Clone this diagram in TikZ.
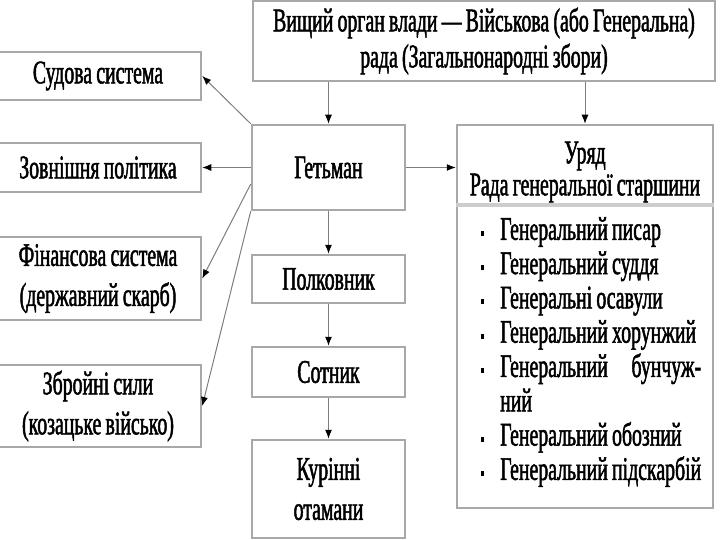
\documentclass[tikz,border=0pt]{standalone}
\usepackage{fontspec}
\setmainfont{Liberation Serif}[FakeStretch=0.6, WordSpace=0.85, FakeBold=1.5]
\usetikzlibrary{arrows.meta, positioning}
\definecolor{boxgray}{RGB}{168,168,168}
\definecolor{linegray}{RGB}{125,125,125}
\definecolor{rulegray}{RGB}{205,205,205}
\newcommand{\bul}{\makebox[20pt][l]{\hspace{1pt}\raisebox{4pt}{\rule{3pt}{5pt}}}}

\begin{document}
\begin{tikzpicture}[
        x=1pt, y=-1pt,
        box/.style={rectangle, draw=boxgray, line width=2.5pt, fill=white, inner sep=0pt, align=center, font=\fontsize{33}{40}\selectfont},
        txt/.style={inner sep=0pt, font=\fontsize{33}{40}\selectfont},
        arrow/.style={-{Latex[length=9pt, width=7pt, black]}, line width=1pt, color=linegray}
    ]
        \useasboundingbox (0,0) rectangle (720,540);

        % Supreme body (top)
        \node[box, minimum width=462, minimum height=80, font=\fontsize{33}{36}\selectfont] (rada) at (484,41) {Вищий орган влади — Військова (або Генеральна)\\рада (Загальнонародні збори)};

        % Hetman and the chain of command (middle column)
        \node[box, minimum width=153, minimum height=85] (hetman) at (328.5,167.5) {Гетьман};
        \node[box, minimum width=153, minimum height=48] (polk) at (328.5,279) {Полковник};
        \node[box, minimum width=153, minimum height=50] (sotnyk) at (328.5,372) {Сотник};
        \node[box, minimum width=153, minimum height=98] (kurin) at (328.5,489) {Курінні\\отамани};

        % Branches under the Hetman (left column)
        \node[box, minimum width=206, minimum height=48] (sud) at (98,76) {Судова система};
        \node[box, minimum width=206, minimum height=49] (zovn) at (98,167.5) {Зовнішня політика};
        \node[box, minimum width=206, minimum height=83] (fin) at (98,278.5) {Фінансова система\\(державний скарб)};
        \node[box, minimum width=206, minimum height=82] (army) at (98,406) {Збройні сили\\(козацьке військо)};

        % Government (right column)
        \node[box, minimum width=256, minimum height=383] (uryad) at (585,316.5) {};
        \node[txt, align=center, font=\fontsize{33}{32}\selectfont] (uryadtitle) at (585,172) {Уряд\\Рада генеральної старшини};
        \draw[rulegray, line width=4pt] (uryad.west |- 0,205) -- (uryad.east |- 0,205);
        \node[txt, anchor=north west, align=flush left, text width=250, font=\fontsize{33}{34.3}\selectfont] (starshyna) at (480,217) {\bul Генеральний писар\\
            \bul Генеральний суддя\\
            \bul Генеральні осавули\\
            \bul Генеральний хорунжий\\
            \bul\hbox to 201pt{Генеральний\hfill бунчуж-}\\
            \hspace*{20pt}ний\\
            \bul Генеральний обозний\\
            \bul Генеральний підскарбій};

        % Connections
        \draw[arrow] (rada.south -| hetman) -- (hetman.north);
        \draw[arrow] (rada.south -| uryad) -- (uryad.north);
        \draw[arrow] (hetman.east) -- (hetman.east -| uryad.west);
        \draw[arrow] (hetman.north west) -- (sud.east);
        \draw[arrow] (hetman.west) -- (zovn.east);
        \draw[arrow] (hetman.192) -- (fin.east);
        \draw[arrow] (hetman.south west) -- (army.east);
        \draw[arrow] (hetman) -- (polk);
        \draw[arrow] (polk) -- (sotnyk);
        \draw[arrow] (sotnyk) -- (kurin);
    \end{tikzpicture}
\end{document}
